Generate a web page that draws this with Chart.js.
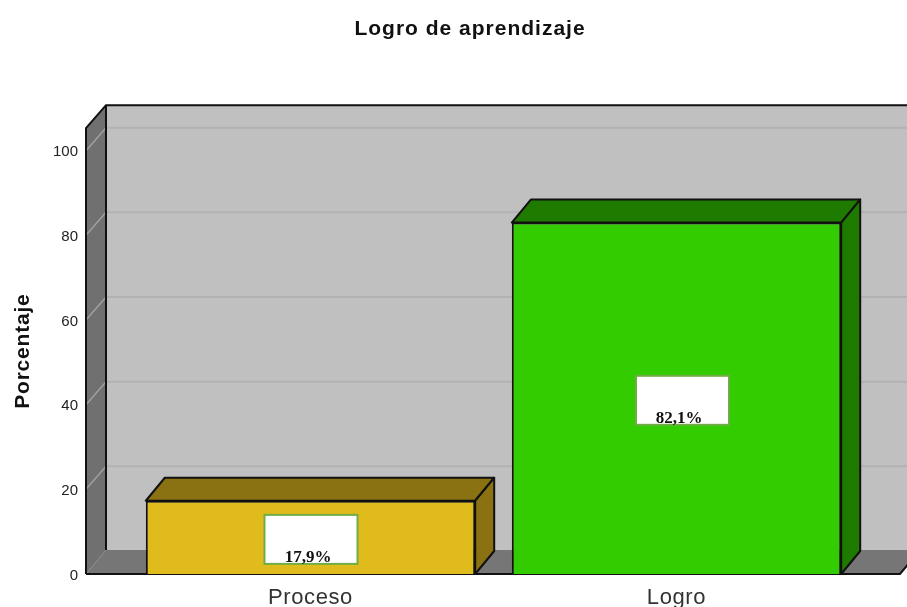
<!DOCTYPE html>
<html>
<head>
<meta charset="utf-8">
<style>html,body{margin:0;padding:0;background:#fff}#w{position:relative;width:907px;height:607px;overflow:hidden}canvas{display:block}</style>
<script src="https://cdn.jsdelivr.net/npm/chart.js@4/dist/chart.umd.min.js"></script>
</head>
<body>
<div id="w"><canvas id="c"></canvas></div>
<script>
const categories = ["Proceso", "Logro"];
const values = [17.3, 83.0];
const valueLabels = ["17,9%", "82,1%"];
const chartTitle = "Logro de aprendizaje";
const yAxisTitle = "Porcentaje";
const yTickStep = 20;
const yMax = 105.3;

const frontColors = ["#e0bb1c", "#33cc00"];
const darkColors = ["#8a7213", "#1f7a00"];

const wallDX = 20, wallDY = 24, barDX = 19, barDY = 23;

function poly(ctx, pts, fill, stroke, lw) {
  ctx.beginPath();
  pts.forEach((p, i) => i ? ctx.lineTo(p[0], p[1]) : ctx.moveTo(p[0], p[1]));
  ctx.closePath();
  if (fill) { ctx.fillStyle = fill; ctx.fill(); }
  if (stroke) { ctx.strokeStyle = stroke; ctx.lineWidth = lw; ctx.lineJoin = "round"; ctx.stroke(); }
}

function spaced(obj, method, ctx, spacing) {
  const orig = obj[method];
  obj[method] = function () {
    ctx.letterSpacing = spacing;
    orig.apply(this, arguments);
    ctx.letterSpacing = "0px";
  };
}

const scene3d = {
  id: "scene3d",
  afterLayout(chart) {
    if (chart.$spaced) return;
    chart.$spaced = true;
    spaced(chart.titleBlock, "draw", chart.ctx, "1px");
    spaced(chart.scales.y, "drawTitle", chart.ctx, "0.8px");
    spaced(chart.scales.x, "drawLabels", chart.ctx, "0.6px");
  },
  beforeDraw(chart) {
    if (chart.titleBlock) { chart.titleBlock.left = 40; chart.titleBlock.right = 900; }
  },
  beforeDatasetsDraw(chart) {
    const { ctx, chartArea: a, scales: { y } } = chart;
    const L = a.left - 41.5, R = a.right + 40.5, T = a.top, B = a.bottom;
    ctx.save();
    ctx.fillStyle = "#c0c0c0";
    ctx.fillRect(L + wallDX, T - wallDY + 1, R - L + 10, B - T);
    poly(ctx, [[L, T], [L + wallDX, T - wallDY + 1], [L + wallDX, B - wallDY], [L, B]], "#707070");
    poly(ctx, [[L, B], [L + wallDX, B - wallDY], [R + wallDX, B - wallDY], [R, B]], "#767676");
    y.ticks.forEach(t => {
      const py = y.getPixelForValue(t.value);
      if (t.value === 0) return;
      ctx.strokeStyle = "#b2b2b2"; ctx.lineWidth = 2;
      ctx.beginPath(); ctx.moveTo(L + wallDX, py - wallDY + 1); ctx.lineTo(907, py - wallDY + 1); ctx.stroke();
      ctx.strokeStyle = "#a0a0a0"; ctx.lineWidth = 1.5;
      ctx.beginPath(); ctx.moveTo(L, py); ctx.lineTo(L + wallDX, py - wallDY + 1); ctx.stroke();
    });
    ctx.strokeStyle = "#111"; ctx.lineWidth = 2; ctx.lineCap = "butt";
    ctx.beginPath();
    ctx.moveTo(L, B); ctx.lineTo(L, T); ctx.lineTo(L + wallDX, T - wallDY + 1); ctx.lineTo(907, T - wallDY + 1);
    ctx.moveTo(L + wallDX, T - wallDY + 1); ctx.lineTo(L + wallDX, B - wallDY);
    ctx.moveTo(L, B); ctx.lineTo(R, B); ctx.lineTo(R + wallDX, B - wallDY);
    ctx.stroke();
    const meta = chart.getDatasetMeta(0);
    meta.data.forEach((bar, i) => {
      const l = bar.x - bar.width / 2, r = bar.x + bar.width / 2;
      poly(ctx, [[l, bar.y], [l + barDX, bar.y - barDY], [r + barDX, bar.y - barDY], [r, bar.y]], darkColors[i], "#111", 2);
      poly(ctx, [[r, bar.y], [r + barDX, bar.y - barDY], [r + barDX, bar.base - barDY], [r, bar.base]], darkColors[i], "#111", 2);
    });
    ctx.restore();
  },
  afterDatasetsDraw(chart) {
    const { ctx } = chart;
    const meta = chart.getDatasetMeta(0);
    ctx.save();
    meta.data.forEach((bar, i) => {
      const cx = bar.x + (i ? 6 : 0.5), cy = (bar.y + bar.base) / 2 + 2;
      const w = 93, h = 49;
      ctx.fillStyle = "#fff"; ctx.strokeStyle = "#70ad47"; ctx.lineWidth = 2;
      ctx.fillRect(cx - w / 2, cy - h / 2, w, h);
      ctx.strokeRect(cx - w / 2, cy - h / 2, w, h);
      ctx.fillStyle = "#111";
      ctx.font = "bold 17px 'Liberation Serif'";
      ctx.textAlign = "center"; ctx.textBaseline = "alphabetic";
      ctx.fillText(valueLabels[i], cx + (i ? -3.5 : -3), cy + h / 2 - 2);
    });
    ctx.restore();
  }
};

new Chart(document.getElementById("c"), {
  type: "bar",
  data: {
    labels: categories,
    datasets: [{
      data: values,
      backgroundColor: frontColors,
      borderColor: "#111",
      borderWidth: 2,
      barPercentage: 0.9,
      categoryPercentage: 1
    }]
  },
  plugins: [scene3d],
  options: {
    responsive: true,
    maintainAspectRatio: false,
    animation: false,
    layout: { padding: { left: 0, right: 47.5, top: 0, bottom: 0 } },
    plugins: {
      legend: { display: false },
      tooltip: { enabled: false },
      title: {
        display: true,
        text: chartTitle,
        color: "#111",
        font: { family: "'Liberation Sans'", size: 21, weight: "bold" },
        padding: { top: 17, bottom: 86 }
      }
    },
    scales: {
      x: {
        grid: { display: false, drawTicks: false },
        border: { display: false },
        afterFit(s) { s.height = 33; },
        ticks: {
          color: "#333",
          font: { family: "'Liberation Sans'", size: 22 },
          padding: 11,
          maxRotation: 0,
          autoSkip: false
        }
      },
      y: {
        min: 0,
        max: yMax,
        grid: { display: false, drawTicks: false },
        border: { display: false },
        afterFit(s) { s.width = 127.5; s.paddingTop = 0; s.paddingBottom = 0; },
        afterBuildTicks(s) { s.ticks = s.ticks.filter(t => t.value % yTickStep === 0); },
        title: {
          display: true,
          text: yAxisTitle,
          color: "#111",
          font: { family: "'Liberation Sans'", size: 21, weight: "bold" },
          padding: { top: 11, bottom: 0 }
        },
        ticks: {
          stepSize: yTickStep,
          color: "#222",
          font: { family: "'Liberation Sans'", size: 15 },
          padding: 49.5,
          labelOffset: 1.5
        }
      }
    }
  }
});
</script>
</body>
</html>
